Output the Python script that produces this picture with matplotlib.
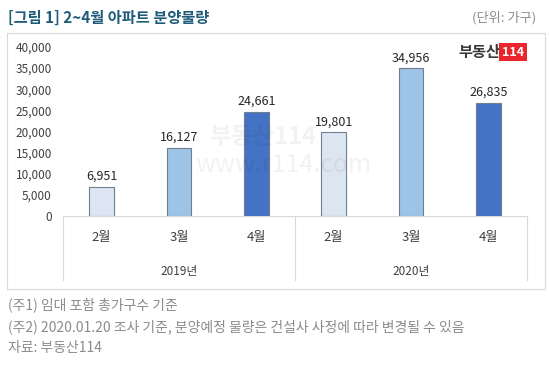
import matplotlib
matplotlib.use("Agg")
import matplotlib.pyplot as plt
from matplotlib.patches import Rectangle

plt.rcParams['font.family'] = ['Noto Sans CJK KR', 'DejaVu Sans']

months = ["2월", "3월", "4월", "2월", "3월", "4월"]
years = ["2019년", "2020년"]
values = [6951, 16127, 24661, 19801, 34956, 26835]
yticks = [0, 5000, 10000, 15000, 20000, 25000, 30000, 35000, 40000]
title = "[그림 1] 2~4월 아파트 분양물량"
unit = "(단위: 가구)"
notes = ["(주1) 임대 포함 총가구수 기준",
         "(주2) 2020.01.20 조사 기준, 분양예정 물량은 건설사 사정에 따라 변경될 수 있음",
         "자료: 부동산114"]

colors = ["#dce6f2", "#9dc3e6", "#4472c4"] * 2
edge = "#6f7f92"

W, H = 550, 369
fig = plt.figure(figsize=(W / 100, H / 100), dpi=100)

# outer frame
fig.add_artist(Rectangle((7 / W, 1 - 289 / H), (545 - 7) / W, (289 - 33) / H,
                         transform=fig.transFigure, fill=False, ec="#d9d9d9", lw=0.8))

# watermark (behind everything)
fig.text(262 / W, 1 - 137 / H, "부동산114", fontsize=17, fontweight="bold", color="#000000",
         alpha=0.05, ha="center", va="center", zorder=0)
fig.text(283 / W, 1 - 165 / H, "www.r114.com", fontsize=18, color="#000000",
         alpha=0.05, ha="center", va="center", zorder=0)

ax = fig.add_axes([63 / W, 1 - 216 / H, (527 - 63) / W, (216 - 47) / H])
ax.patch.set_alpha(0)
x = list(range(len(values)))
ax.bar(x, values, width=0.32, color=colors, edgecolor=edge, linewidth=0.8, zorder=3)
for xi, v in zip(x, values):
    ax.text(xi, v + 900, f"{v:,}", ha="center", va="bottom", fontsize=9, color="#262626")

ax.set_xlim(-0.5, 5.5)
ax.set_ylim(0, 40000)
ax.set_yticks(yticks)
ax.set_yticklabels([f"{t:,}" for t in yticks], fontsize=8.5, color="#404040")
ax.tick_params(axis="y", length=0, pad=8)
ax.set_xticks([])
for s in ["top", "right", "left"]:
    ax.spines[s].set_visible(False)
ax.spines["bottom"].set_color("#d9d9d9")

month_y = -(237 - 216) / (216 - 47)
year_y = -(272 - 216) / (216 - 47)
sep_y = -(280 - 216) / (216 - 47)
for xi, m in zip(x, months):
    ax.text(xi, month_y, m, transform=ax.get_xaxis_transform(), ha="center", va="center",
            fontsize=9.5, color="#404040")
for gi, yname in enumerate(years):
    ax.text(gi * 3 + 1, year_y, yname, transform=ax.get_xaxis_transform(),
            ha="center", va="center", fontsize=8.5, color="#404040")
for xs in [-0.5, 2.5, 5.5]:
    ax.plot([xs, xs], [0, sep_y], transform=ax.get_xaxis_transform(),
            color="#d9d9d9", lw=0.8, clip_on=False)

# logo
fig.text(500 / W, 1 - 52 / H, "부동산", fontsize=11, fontweight="heavy", color="#3a3a3a",
         ha="right", va="center")
fig.text(513 / W, 1 - 52 / H, "114", fontsize=9, fontweight="bold", color="white",
         ha="center", va="center",
         bbox=dict(boxstyle="square,pad=0.2", fc="#e8262b", ec="none"))

# title and unit
fig.text(8 / W, 1 - 18 / H, title, fontsize=11, fontweight="bold", color="#1f5c7a",
         ha="left", va="center")
fig.text(536 / W, 1 - 18 / H, unit, fontsize=9.5, color="#8c8c8c", ha="right", va="center")

for i, n in enumerate(notes):
    fig.text(8 / W, 1 - (305 + i * 21.5) / H, n, fontsize=10, color="#8c8c8c",
             ha="left", va="center")

fig.savefig("out.png", dpi=100)
